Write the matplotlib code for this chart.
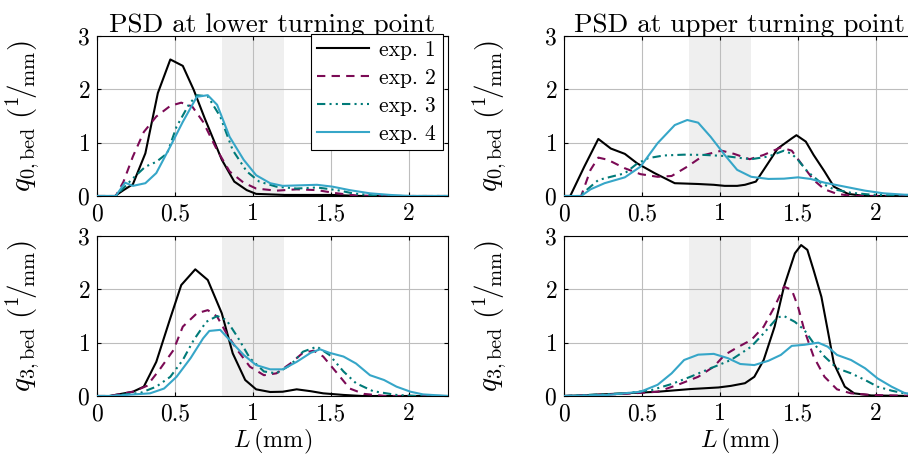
import matplotlib
matplotlib.use("Agg")
import matplotlib.pyplot as plt

plt.rcParams['font.family'] = ['cmr10', 'DejaVu Serif']
plt.rcParams['mathtext.fontset'] = 'cm'
plt.rcParams['axes.formatter.use_mathtext'] = True

# q0, lower turning point
q0_low_x1 = [0, 0.115, 0.17, 0.23, 0.31, 0.39, 0.47, 0.55, 0.62, 0.69, 0.80, 0.88, 0.96, 1.02, 1.2, 1.5, 1.7, 2.25]
q0_low_y1 = [0, 0, 0.11, 0.22, 0.8, 1.93, 2.56, 2.44, 1.99, 1.46, 0.68, 0.27, 0.11, 0.04, 0.02, 0.02, 0, 0]
q0_low_x2 = [0, 0.12, 0.17, 0.23, 0.30, 0.38, 0.47, 0.54, 0.61, 0.68, 0.77, 0.85, 0.94, 1.02, 1.15, 1.28, 1.41, 1.54, 1.66, 1.8, 2.25]
q0_low_y2 = [0, 0, 0.27, 0.74, 1.2, 1.49, 1.69, 1.75, 1.68, 1.39, 0.86, 0.46, 0.25, 0.14, 0.1, 0.125, 0.11, 0.05, 0.01, 0, 0]
q0_low_x3 = [0, 0.12, 0.17, 0.23, 0.31, 0.38, 0.45, 0.51, 0.59, 0.64, 0.71, 0.79, 0.87, 0.96, 1.04, 1.15, 1.28, 1.41, 1.54, 1.64, 1.77, 1.9, 2.25]
q0_low_y3 = [0, 0, 0.15, 0.33, 0.55, 0.64, 0.8, 1.3, 1.72, 1.89, 1.87, 1.49, 0.86, 0.46, 0.27, 0.175, 0.14, 0.16, 0.11, 0.05, 0.01, 0, 0]
q0_low_x4 = [0, 0.12, 0.18, 0.23, 0.31, 0.38, 0.47, 0.55, 0.64, 0.71, 0.77, 0.85, 0.94, 1.02, 1.11, 1.19, 1.30, 1.41, 1.51, 1.62, 1.75, 1.88, 2.0, 2.25]
q0_low_y4 = [0, 0, 0.25, 0.19, 0.24, 0.43, 0.93, 1.39, 1.86, 1.89, 1.71, 1.11, 0.68, 0.39, 0.24, 0.19, 0.2, 0.21, 0.175, 0.11, 0.05, 0.02, 0, 0]

# q0, upper turning point
q0_up_x1 = [0, 0.04, 0.13, 0.22, 0.30, 0.39, 0.47, 0.58, 0.71, 0.86, 0.96, 1.03, 1.11, 1.16, 1.23, 1.28, 1.37, 1.46, 1.49, 1.55, 1.60, 1.67, 1.73, 1.82, 1.93, 2.25]
q0_up_y1 = [0, 0, 0.55, 1.07, 0.89, 0.79, 0.61, 0.43, 0.24, 0.225, 0.21, 0.19, 0.19, 0.21, 0.27, 0.49, 0.89, 1.08, 1.14, 1.02, 0.77, 0.46, 0.175, 0.04, 0, 0]
q0_up_x2 = [0, 0.11, 0.17, 0.22, 0.28, 0.39, 0.49, 0.60, 0.69, 0.79, 0.90, 1.01, 1.09, 1.19, 1.28, 1.39, 1.46, 1.52, 1.60, 1.67, 1.75, 1.85, 2.25]
q0_up_y2 = [0, 0, 0.49, 0.72, 0.68, 0.52, 0.41, 0.36, 0.375, 0.55, 0.77, 0.85, 0.79, 0.69, 0.77, 0.91, 0.85, 0.61, 0.3, 0.125, 0.04, 0, 0]
q0_up_x3 = [0, 0.10, 0.17, 0.22, 0.30, 0.39, 0.47, 0.54, 0.64, 0.77, 0.90, 1.03, 1.11, 1.20, 1.31, 1.41, 1.46, 1.50, 1.56, 1.65, 1.73, 1.84, 1.97, 2.1, 2.25]
q0_up_y3 = [0, 0, 0.175, 0.3, 0.36, 0.425, 0.61, 0.71, 0.76, 0.775, 0.77, 0.75, 0.72, 0.69, 0.74, 0.85, 0.79, 0.675, 0.46, 0.24, 0.125, 0.06, 0.025, 0.01, 0]
q0_up_x4 = [0, 0.11, 0.17, 0.26, 0.39, 0.49, 0.60, 0.71, 0.79, 0.86, 0.94, 1.03, 1.11, 1.20, 1.31, 1.41, 1.50, 1.58, 1.67, 1.80, 1.93, 2.05, 2.18, 2.25]
q0_up_y4 = [0, 0, 0.125, 0.24, 0.35, 0.55, 0.99, 1.33, 1.425, 1.375, 1.11, 0.77, 0.49, 0.36, 0.32, 0.325, 0.35, 0.32, 0.25, 0.175, 0.1, 0.05, 0.025, 0.02]

# q3, lower turning point
q3_low_x1 = [0, 0.08, 0.23, 0.30, 0.38, 0.47, 0.54, 0.63, 0.71, 0.80, 0.87, 0.95, 1.02, 1.11, 1.19, 1.28, 1.37, 1.45, 1.58, 1.7, 2.25]
q3_low_y1 = [0, 0, 0.08, 0.175, 0.64, 1.46, 2.08, 2.375, 2.175, 1.55, 0.8, 0.3, 0.125, 0.075, 0.08, 0.125, 0.09, 0.05, 0.02, 0, 0]
q3_low_x2 = [0, 0.08, 0.23, 0.32, 0.40, 0.49, 0.55, 0.64, 0.71, 0.77, 0.83, 0.90, 0.98, 1.07, 1.15, 1.24, 1.32, 1.39, 1.45, 1.54, 1.62, 1.71, 1.85, 2.25]
q3_low_y2 = [0, 0, 0.08, 0.19, 0.49, 0.86, 1.3, 1.55, 1.61, 1.49, 1.175, 0.86, 0.55, 0.39, 0.425, 0.61, 0.81, 0.85, 0.74, 0.425, 0.14, 0.04, 0, 0]
q3_low_x3 = [0, 0.08, 0.28, 0.38, 0.47, 0.55, 0.62, 0.70, 0.77, 0.83, 0.90, 0.98, 1.07, 1.15, 1.24, 1.32, 1.41, 1.49, 1.58, 1.66, 1.77, 1.92, 2.05, 2.25]
q3_low_y3 = [0, 0, 0.06, 0.175, 0.36, 0.675, 1.05, 1.39, 1.5, 1.425, 1.11, 0.71, 0.46, 0.425, 0.58, 0.83, 0.925, 0.77, 0.46, 0.24, 0.09, 0.02, 0, 0]
q3_low_x4 = [0, 0.08, 0.34, 0.43, 0.51, 0.60, 0.68, 0.72, 0.79, 0.85, 0.94, 1.02, 1.11, 1.19, 1.28, 1.37, 1.43, 1.49, 1.58, 1.66, 1.75, 1.84, 1.92, 2.01, 2.09, 2.2, 2.25]
q3_low_y4 = [0, 0, 0.05, 0.14, 0.36, 0.71, 1.08, 1.22, 1.24, 1.05, 0.77, 0.58, 0.5, 0.5, 0.64, 0.81, 0.875, 0.81, 0.74, 0.61, 0.39, 0.3, 0.175, 0.08, 0.03, 0.01, 0]

# q3, upper turning point
q3_up_x1 = [0, 0.17, 0.39, 0.60, 0.81, 0.99, 1.07, 1.16, 1.22, 1.28, 1.35, 1.41, 1.48, 1.52, 1.56, 1.60, 1.65, 1.69, 1.73, 1.80, 1.86, 1.97, 2.25]
q3_up_y1 = [0, 0.02, 0.05, 0.08, 0.13, 0.16, 0.19, 0.24, 0.36, 0.675, 1.3, 2.05, 2.675, 2.83, 2.74, 2.36, 1.86, 1.24, 0.61, 0.175, 0.05, 0.01, 0]
q3_up_x2 = [0, 0.39, 0.60, 0.73, 0.86, 0.96, 1.03, 1.11, 1.20, 1.28, 1.35, 1.41, 1.46, 1.50, 1.54, 1.60, 1.67, 1.75, 1.84, 1.97, 2.10, 2.25]
q3_up_y2 = [0, 0.04, 0.08, 0.21, 0.36, 0.55, 0.77, 0.91, 1.05, 1.3, 1.675, 2.05, 1.99, 1.675, 1.24, 0.74, 0.36, 0.125, 0.05, 0.02, 0.01, 0]
q3_up_x3 = [0, 0.39, 0.56, 0.69, 0.81, 0.94, 1.07, 1.20, 1.28, 1.37, 1.41, 1.48, 1.54, 1.60, 1.67, 1.75, 1.84, 1.93, 2.01, 2.10, 2.18, 2.25]
q3_up_y3 = [0, 0.05, 0.11, 0.225, 0.36, 0.52, 0.675, 0.925, 1.175, 1.475, 1.5, 1.39, 1.24, 0.99, 0.74, 0.52, 0.425, 0.3, 0.175, 0.1, 0.05, 0.03]
q3_up_x4 = [0, 0.28, 0.49, 0.60, 0.69, 0.77, 0.86, 0.96, 1.05, 1.13, 1.22, 1.31, 1.39, 1.46, 1.54, 1.63, 1.69, 1.75, 1.84, 1.93, 2.01, 2.10, 2.18, 2.25]
q3_up_y4 = [0, 0.02, 0.08, 0.21, 0.425, 0.675, 0.775, 0.79, 0.71, 0.6, 0.58, 0.66, 0.77, 0.94, 0.96, 1.0, 0.925, 0.77, 0.675, 0.52, 0.33, 0.175, 0.06, 0.02]

labels = ['exp. 1', 'exp. 2', 'exp. 3', 'exp. 4']
colors = ['black', '#7b0a55', '#007a78', '#36a6c8']
styles = ['-', (0, (4, 3)), (0, (4, 2, 1, 2, 1, 2)), '-']
xticks = [0, 0.5, 1, 1.5, 2]
xticklabels = ['0', '0.5', '1', '1.5', '2']
yticks = [0, 1, 2, 3]

panels = [
    ([q0_low_x1, q0_low_x2, q0_low_x3, q0_low_x4], [q0_low_y1, q0_low_y2, q0_low_y3, q0_low_y4]),
    ([q0_up_x1, q0_up_x2, q0_up_x3, q0_up_x4], [q0_up_y1, q0_up_y2, q0_up_y3, q0_up_y4]),
    ([q3_low_x1, q3_low_x2, q3_low_x3, q3_low_x4], [q3_low_y1, q3_low_y2, q3_low_y3, q3_low_y4]),
    ([q3_up_x1, q3_up_x2, q3_up_x3, q3_up_x4], [q3_up_y1, q3_up_y2, q3_up_y3, q3_up_y4]),
]

fig = plt.figure(figsize=(9.08, 4.66), dpi=100)
W, H = 908, 466
pos = [(97, 36), (564, 36), (97, 236), (564, 236)]
axes = []
for (px, py) in pos:
    ax = fig.add_axes([px / W, (H - py - 160) / H, 351 / W, 160 / H])
    axes.append(ax)

for i, ax in enumerate(axes):
    xs, ys = panels[i]
    ax.axvspan(0.8, 1.2, color='#efefef', zorder=0, lw=0)
    for x, y, c, s, lab in zip(xs, ys, colors, styles, labels):
        ax.plot(x, y, color=c, linestyle=s, lw=1.5, label=lab, zorder=3)
    ax.set_xlim(0, 2.25)
    ax.set_ylim(0, 3)
    ax.set_xticks(xticks)
    ax.set_xticklabels(xticklabels)
    ax.set_yticks(yticks)
    ax.grid(True, color='#bdbdbd', lw=0.8, zorder=1)
    ax.set_axisbelow(True)
    ax.tick_params(direction='in', labelsize=17, top=True, right=True, length=3, pad=5)
    for sp in ax.spines.values():
        sp.set_linewidth(0.8)

axes[0].set_title('PSD at lower turning point', fontsize=19.5, pad=3)
axes[1].set_title('PSD at upper turning point', fontsize=19.5, pad=3)
for ax in (axes[0], axes[1]):
    ax.set_ylabel(r'$q_{0,\mathrm{bed}}\;(^{1}\!/\!_{\mathrm{mm}})$', fontsize=21, labelpad=26)
for ax in (axes[2], axes[3]):
    ax.set_ylabel(r'$q_{3,\mathrm{bed}}\;(^{1}\!/\!_{\mathrm{mm}})$', fontsize=21, labelpad=26)
    ax.set_xlabel(r'$L\,(\mathrm{mm})$', fontsize=17.5, labelpad=1)

leg = axes[0].legend(loc='upper right', bbox_to_anchor=(0.985, 1.015), fontsize=15.5,
                     handlelength=2.4, frameon=True, fancybox=False, edgecolor='black',
                     framealpha=1, borderaxespad=0.0, labelspacing=0.4, borderpad=0.3,
                     handletextpad=0.5)
leg.get_frame().set_linewidth(0.8)

fig.savefig('out.png', dpi=100)
